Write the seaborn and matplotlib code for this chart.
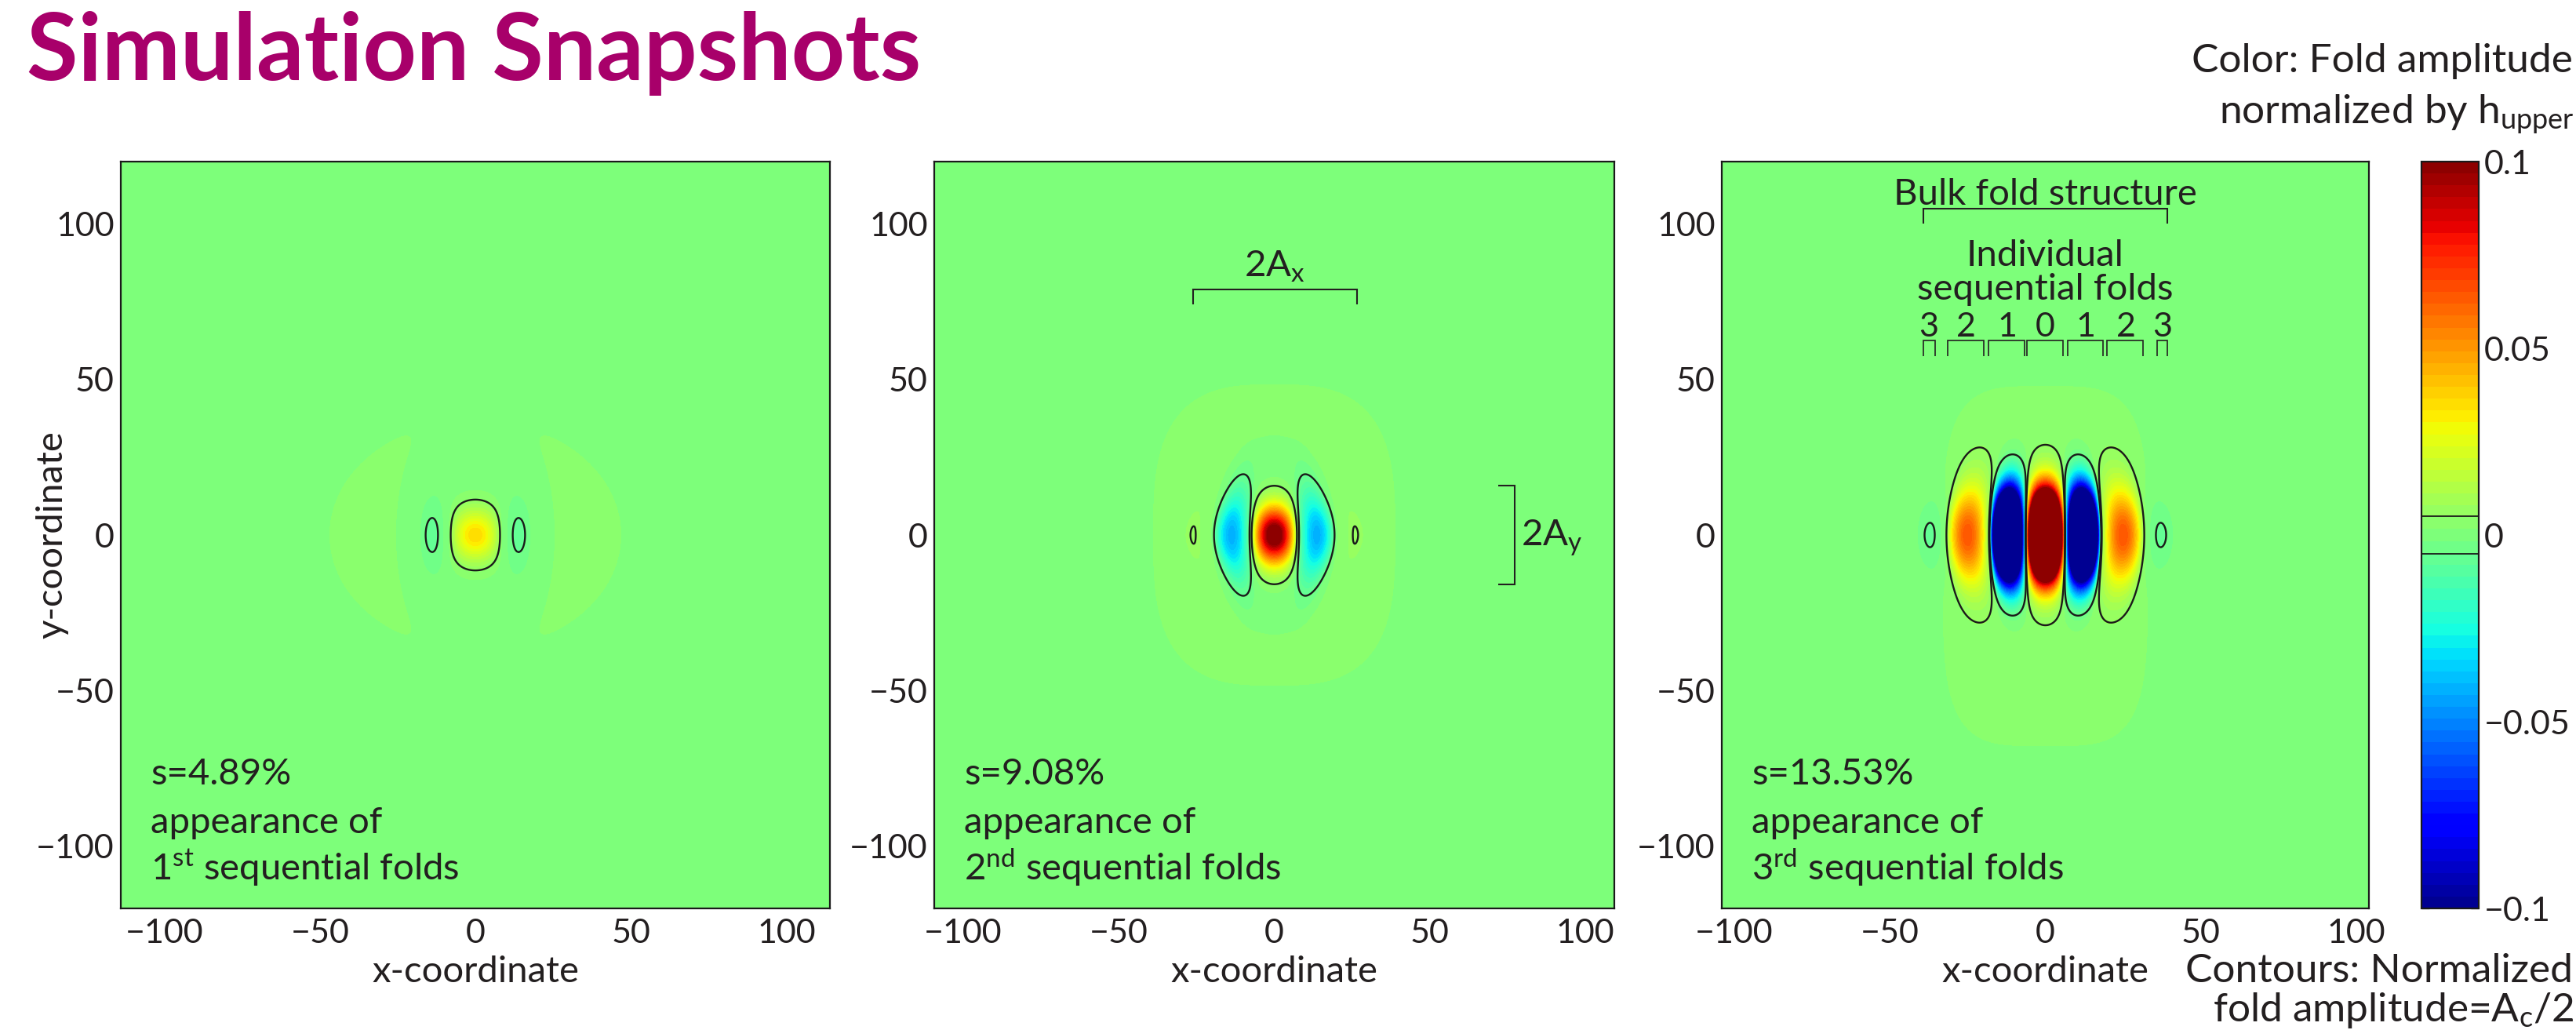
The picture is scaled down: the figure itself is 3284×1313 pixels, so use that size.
import numpy as np
import matplotlib
matplotlib.use("Agg")
import matplotlib.pyplot as plt
from matplotlib.colors import ListedColormap
import seaborn as sns

# ------------------------------------------------------------------
# Data
# ------------------------------------------------------------------
panel_strain = ["4.89", "9.08", "13.53"]
panel_order_num = ["1", "2", "3"]
panel_order_suffix = ["st", "nd", "rd"]
x_half_range = [114.0, 109.3, 104.0]
y_half_range = 120.0
axis_ticks = [-100, -50, 0, 50, 100]

# fold lobes: centre x, amplitude, half-width in x, decay length in y
p1_lobe_x = [-14.0, 0.0, 14.0]
p1_lobe_amp = [-0.0065, 0.036, -0.0065]
p1_lobe_hw = [4.5, 8.7, 4.5]
p1_lobe_sy = [10.7, 8.1, 10.7]

p2_lobe_x = [-26.0, -13.7, 0.0, 13.7, 26.0]
p2_lobe_amp = [0.00205, -0.042, 0.11, -0.042, 0.00205]
p2_lobe_hw = [7.0, 6.2, 7.5, 6.2, 7.0]
p2_lobe_sy = [20.0, 13.4, 9.0, 13.4, 20.0]

p3_lobe_x = [-37.0, -25.0, -12.15, 0.0, 12.15, 25.0, 37.0]
p3_lobe_amp = [-0.006, 0.062, -0.4, 0.4, -0.4, 0.062, -0.006]
p3_lobe_hw = [5.0, 7.0, 5.85, 6.3, 5.85, 7.0, 5.0]
p3_lobe_sy = [10.0, 15.2, 13.1, 12.6, 13.1, 15.2, 10.0]

lobe_bend_length = [60.0, 32.0, 66.0]

# faint halo around the fold train
halo_amp = [0.003, 0.003, 0.003]
halo_outer = [(47.0, 37.0), (39.0, 48.5), (33.0, 58.0)]
halo_inner = [(25.5, 48.0), (21.0, 32.0), (0.0, 0.0)]
halo_outer_power = [2.0, 3.0, 4.0]
halo_inner_power = [2.0, 2.0, 2.0]
halo_yc = [0.0, 0.0, -10.0]

contour_levels = [-0.005, 0.005]
color_limits = [-0.1, 0.1]
n_bands = 63
colorbar_ticks = [-0.1, -0.05, 0.0, 0.05, 0.1]
colorbar_tick_labels = ["\u22120.1", "\u22120.05", "0", "0.05", "0.1"]

# annotations (data units)
ax_bracket_x = [-26.1, 26.5]
ax_bracket_y = [79.0, 74.0]
ay_bracket_x = [77.3, 72.0]
ay_bracket_y = [-15.8, 16.0]
bulk_bracket_x = [-39.3, 39.3]
bulk_bracket_y = [105.0, 100.0]
fold_numbers = ["3", "2", "1", "0", "1", "2", "3"]
fold_number_x = [-37.6, -25.6, -12.3, 0.0, 13.0, 26.0, 37.6]
fold_bracket_left = [-39.3, -31.4, -18.4, -5.9, 7.2, 19.7, 35.9]
fold_bracket_right = [-35.5, -19.8, -6.8, 5.7, 18.5, 31.5, 39.3]
fold_bracket_y = [62.4, 57.4]
caption_y = [-80.1, -95.7, -110.8]

lobes = [
    (p1_lobe_x, p1_lobe_amp, p1_lobe_hw, p1_lobe_sy),
    (p2_lobe_x, p2_lobe_amp, p2_lobe_hw, p2_lobe_sy),
    (p3_lobe_x, p3_lobe_amp, p3_lobe_hw, p3_lobe_sy),
]

# ------------------------------------------------------------------
# Style
# ------------------------------------------------------------------
sns.set_theme(style="ticks")
plt.rcParams["font.family"] = ["Lato", "DejaVu Sans"]
plt.rcParams["mathtext.fontset"] = "custom"
plt.rcParams["mathtext.rm"] = "Lato"
plt.rcParams["mathtext.it"] = "Lato:italic"
plt.rcParams["mathtext.bf"] = "Lato:bold"
plt.rcParams["axes.unicode_minus"] = True

TXT = "#231f20"
TICK = 31
LABEL = 34
ANN = 34
CORNER = 37

W, H = 3284, 1313
fig = plt.figure(figsize=(W / 100, H / 100), dpi=100)
fig.patch.set_facecolor("white")


def fbox(l, t, r, b):
    return [l / W, 1 - b / H, (r - l) / W, (b - t) / H]


axes_px = [(154, 206, 1058, 1158), (1191, 206, 2058, 1158), (2195, 206, 3020, 1158)]
cbar_px = (3087, 206, 3160, 1158)

levels = np.linspace(color_limits[0], color_limits[1], n_bands + 1)
cmap = ListedColormap(sns.mpl_palette("jet", n_bands))


def inside(X, Y, a, b, p, yc):
    if a <= 0:
        return np.zeros_like(X)
    r = (np.abs(X / a) ** p + np.abs((Y - yc) / b) ** p) ** (1.0 / p)
    return 1.0 / (1.0 + np.exp(np.clip((r - 1.0) / 0.04, -60, 60)))


def fold_field(i, X, Y):
    lx, la, lh, ls = lobes[i]
    Xb = X * (1.0 + (Y / lobe_bend_length[i]) ** 2)
    Z = np.zeros_like(X)
    for xc, a, hw, sy in zip(lx, la, lh, ls):
        u = (Xb - xc) / hw
        prof = np.where(np.abs(u) < 1, np.cos(0.5 * np.pi * u), 0.0)
        Z += a * prof * np.exp(-(Y / sy) ** 2)
    oa, ob = halo_outer[i]
    ia, ib = halo_inner[i]
    ring = (inside(X, Y, oa, ob, halo_outer_power[i], halo_yc[i])
            - inside(X, Y, ia, ib, halo_inner_power[i], halo_yc[i]))
    Z += halo_amp[i] * np.clip(ring, 0.0, None)
    return np.clip(Z, color_limits[0] + 1e-6, color_limits[1] - 1e-6)


axes = []
cf = None
for i in range(3):
    ax = fig.add_axes(fbox(*axes_px[i]))
    axes.append(ax)
    xh = x_half_range[i]
    xs = np.linspace(-xh, xh, 1100)
    ys = np.linspace(-y_half_range, y_half_range, 1201)
    X, Y = np.meshgrid(xs, ys)
    Z = fold_field(i, X, Y)
    cf = ax.contourf(X, Y, Z, levels=levels, cmap=cmap)
    ax.contour(X, Y, Z, levels=contour_levels, colors="k", linewidths=1.7,
               linestyles="solid")
    ax.set_xlim(-xh, xh)
    ax.set_ylim(-y_half_range, y_half_range)
    ax.set_xticks(axis_ticks)
    ax.set_yticks(axis_ticks)
    ax.tick_params(axis="both", direction="in", top=True, right=True, length=7,
                   width=0.9, color="k", labelsize=TICK, labelcolor=TXT)
    ax.tick_params(axis="x", pad=9)
    ax.tick_params(axis="y", pad=6)
    for s in ax.spines.values():
        s.set_linewidth(1.6)
        s.set_color("k")
    ax.set_xlabel("x-coordinate", fontsize=LABEL, color=TXT)
    ax.xaxis.set_label_coords(0.5, -(1252 - 1158) / 952)
    ax.xaxis.label.set_va("baseline")

    # captions
    tx = -xh + 9.6
    ax.text(tx, caption_y[0], "s=" + panel_strain[i] + "%", fontsize=ANN,
            color=TXT, ha="left", va="baseline")
    ax.text(tx, caption_y[1], "appearance of", fontsize=ANN, color=TXT,
            ha="left", va="baseline")
    ax.text(tx, caption_y[2],
            panel_order_num[i] + r"$^{\mathrm{" + panel_order_suffix[i] + "}}$ sequential folds",
            fontsize=ANN, color=TXT, ha="left", va="baseline")

axes[0].set_ylabel("y-coordinate", fontsize=LABEL, color=TXT)
axes[0].yaxis.set_label_coords((87 - 154) / 904, 0.5)

# panel 2 brackets
ax2 = axes[1]
bl = dict(color=TXT, lw=1.5, solid_joinstyle="miter", solid_capstyle="butt")
ax2.plot([ax_bracket_x[0], ax_bracket_x[0], ax_bracket_x[1], ax_bracket_x[1]],
         [ax_bracket_y[1], ax_bracket_y[0], ax_bracket_y[0], ax_bracket_y[1]], **bl)
ax2.text(0.0, 83.0, r"2A$_{\mathrm{x}}$", fontsize=ANN, color=TXT, ha="center", va="baseline")
ax2.plot([ay_bracket_x[1], ay_bracket_x[0], ay_bracket_x[0], ay_bracket_x[1]],
         [ay_bracket_y[1], ay_bracket_y[1], ay_bracket_y[0], ay_bracket_y[0]], **bl)
ax2.text(79.4, -3.6, r"2A$_{\mathrm{y}}$", fontsize=ANN, color=TXT, ha="left", va="baseline")

# panel 3 brackets
ax3 = axes[2]
ax3.text(0.0, 106.1, "Bulk fold structure", fontsize=ANN, color=TXT, ha="center", va="baseline")
ax3.plot([bulk_bracket_x[0], bulk_bracket_x[0], bulk_bracket_x[1], bulk_bracket_x[1]],
         [bulk_bracket_y[1], bulk_bracket_y[0], bulk_bracket_y[0], bulk_bracket_y[1]], **bl)
ax3.text(0.0, 86.4, "Individual", fontsize=ANN, color=TXT, ha="center", va="baseline")
ax3.text(0.0, 75.6, "sequential folds", fontsize=ANN, color=TXT, ha="center", va="baseline")
for lab, nx, l, r in zip(fold_numbers, fold_number_x, fold_bracket_left, fold_bracket_right):
    ax3.text(nx, 63.7, lab, fontsize=TICK, color=TXT, ha="center", va="baseline")
    ax3.plot([l, l, r, r], [fold_bracket_y[1], fold_bracket_y[0], fold_bracket_y[0], fold_bracket_y[1]],
             color=TXT, lw=1.2, solid_joinstyle="miter", solid_capstyle="butt")

# colorbar
cax = fig.add_axes(fbox(*cbar_px))
cb = fig.colorbar(cf, cax=cax)
cb.set_ticks(colorbar_ticks)
cb.set_ticklabels(colorbar_tick_labels)
cb.add_lines(contour_levels, ["k", "k"], [1.3, 1.3])
cb.outline.set_linewidth(1.6)
cb.outline.set_edgecolor("k")
cax.tick_params(direction="in", left=True, right=True, length=7, width=0.9, color="k",
                labelsize=TICK, labelcolor=TXT, pad=5)

# figure texts
fig.text(34 / W, 1 - 102 / H, "Simulation Snapshots", fontsize=86, fontweight="bold",
         color="#a8006a", ha="left", va="baseline")
fig.text(3280 / W, 1 - 92 / H, "Color: Fold amplitude", fontsize=CORNER, color=TXT,
         ha="right", va="baseline")
fig.text(3282 / W, 1 - 157 / H, r"normalized by h$_{\mathrm{upper}}$", fontsize=CORNER,
         color=TXT, ha="right", va="baseline")
fig.text(3280 / W, 1 - 1252 / H, "Contours: Normalized", fontsize=CORNER, color=TXT,
         ha="right", va="baseline")
fig.text(3282 / W, 1 - 1302 / H, r"fold amplitude=A$_{\mathrm{c}}$/2", fontsize=CORNER,
         color=TXT, ha="right", va="baseline")

fig.savefig("out.png", dpi=100, facecolor="white")
